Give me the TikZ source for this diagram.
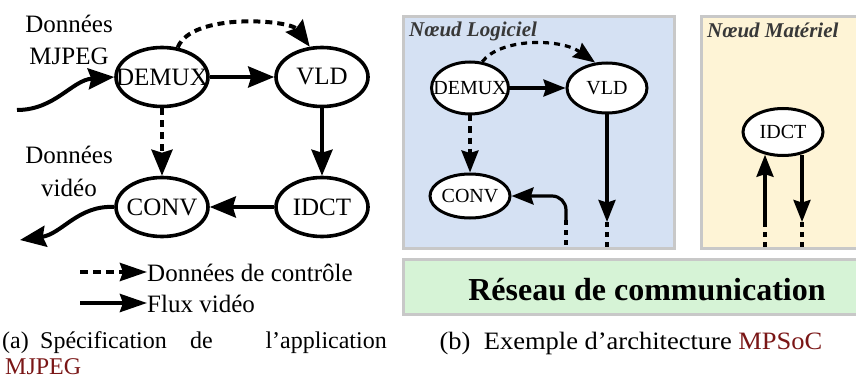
\documentclass[tikz,border=0pt]{standalone}
\usepackage{fontspec}
\setmainfont{Liberation Serif}
\newfontfamily\capfont[FakeStretch=1.06]{Liberation Serif}
\usetikzlibrary{arrows.meta,shapes.geometric}
\definecolor{boxgray}{HTML}{C8C8C8}
\definecolor{lblue}{HTML}{D5E1F3}
\definecolor{lyellow}{HTML}{FEF4D6}
\definecolor{lgreen}{HTML}{D6F3D6}
\definecolor{capred}{HTML}{7A1616}
\definecolor{titlegray}{HTML}{383838}
\begin{document}
\begin{tikzpicture}[x=1pt,y=-1pt,
  bigtip/.tip={Stealth[length=26pt,width=21pt,inset=3pt]},
  legtip/.tip={Stealth[length=27pt,width=18pt,inset=3pt]},
  smalltip/.tip={Stealth[length=22pt,width=17pt,inset=2.5pt]},
  procA/.style={ellipse,draw,line width=3.6pt,fill=white,minimum width=92pt,minimum height=59pt,inner sep=0pt,font=\fontsize{25}{30}\selectfont},
  procB/.style={ellipse,draw,line width=3pt,fill=white,inner sep=0pt,font=\fontsize{20}{24}\selectfont},
  flowA/.style={line width=4pt,-bigtip},
  ctrlA/.style={flowA,dash pattern=on 7pt off 5pt},
  flowB/.style={line width=3.2pt,-smalltip},
  ctrlB/.style={flowB,dash pattern=on 6pt off 5pt},
  linkB/.style={line width=3.2pt,dash pattern=on 5pt off 5pt},
  lbl/.style={font=\fontsize{25}{30}\selectfont,anchor=base,inner sep=0pt},
  caplbl/.style={font=\fontsize{24}{28}\selectfont,anchor=base west,inner sep=0pt},
  boxframe/.style={draw=boxgray,line width=3pt},
  ttl/.style={font=\fontsize{21}{25}\selectfont\bfseries\itshape,text=titlegray,anchor=base west,inner sep=0pt}
]
\useasboundingbox (0,0) rectangle (856,385);

% ---------- (a) application ----------
\node[procA] (demuxA) at (162,77) {\makebox[0pt]{DEMUX}};
\node[procA] (vldA) at (322,77) {\makebox[0pt]{VLD}};
\node[procA] (convA) at (162,207) {\makebox[0pt]{CONV}};
\node[procA] (idctA) at (322,207) {\makebox[0pt]{IDCT}};

\draw[flowA] (demuxA) -- (vldA);
\draw[flowA] (vldA) -- (idctA);
\draw[flowA] (idctA) -- (convA);
\draw[ctrlA] (demuxA) -- (convA);
\draw[ctrlA] (demuxA.62) .. controls (192,12) and (290,20) .. (vldA.112);

\coordinate (inA) at (17,110);
\coordinate (outA) at (20,240);
\draw[flowA] (inA) .. controls (55,110) and (72,80) .. (demuxA.west);
\draw[flowA] (convA.west) .. controls (78,205) and (62,234) .. (outA);

\node[lbl] (t1) at (69,33) {Données};
\node[lbl] (t2) at (69,65) {MJPEG};
\node[lbl] (t3) at (69,163) {Données};
\node[lbl] (t4) at (69,196) {vidéo};

\coordinate (lg1s) at (80,272);
\coordinate (lg1e) at (147,272);
\coordinate (lg2s) at (80,303);
\coordinate (lg2e) at (147,303);
\draw[line width=4pt,dash pattern=on 8pt off 5pt,-legtip] (lg1s) -- (lg1e);
\draw[line width=4pt,-legtip] (lg2s) -- (lg2e);
\node[lbl,anchor=base west] (lgt1) at (147,281) {Données de contrôle};
\node[lbl,anchor=base west] (lgt2) at (147,312) {Flux vidéo};

\node[caplbl] (ca1) at (2,348) {(a)};
\node[caplbl] (ca2) at (40,348) {Spécification};
\node[caplbl] (ca3) at (190,348) {de};
\node[caplbl,anchor=base east] (ca4) at (387,348) {l’application};
\node[caplbl,text=capred] (ca5) at (5,374) {MJPEG};

% ---------- (b) architecture ----------
\draw[boxframe,fill=lblue] (403.5,16.5) rectangle (674,248.5);
\draw[boxframe,fill=lyellow] (701,16.5) rectangle (870,248.5);
\draw[boxframe,fill=lgreen] (403.5,259.5) rectangle (870,314.5);

\node[ttl] (tl) at (409,37) {Nœud Logiciel};
\node[ttl] (tm) at (707,38) {Nœud Matériel};
\node[font=\fontsize{32}{36}\selectfont\bfseries,anchor=base,inner sep=0pt] (net) at (647,300) {Réseau de communication};

\node[procB,minimum width=77pt,minimum height=52pt] (demuxB) at (470,88) {\makebox[0pt]{DEMUX}};
\node[procB,minimum width=80pt,minimum height=50pt] (vldB) at (607,88) {\makebox[0pt]{VLD}};
\node[procB,minimum width=80pt,minimum height=44pt] (convB) at (470,196) {\makebox[0pt]{CONV}};
\node[procB,minimum width=80pt,minimum height=47pt] (idctB) at (783,132) {\makebox[0pt]{IDCT}};

\draw[flowB] (demuxB) -- (vldB);
\draw[ctrlB] (demuxB) -- (convB);
\draw[ctrlB] (demuxB.65) .. controls (500,38) and (560,38) .. (vldB.115);

\coordinate (vldmid) at (607,222);
\coordinate (vldbot) at (607,248);
\draw[flowB] (vldB) -- (vldmid);
\draw[linkB] (vldmid) -- (vldbot);

\coordinate (cvmid) at (566,220);
\coordinate (cvbot) at (566,248);
\draw[linkB] (cvmid) -- (cvbot);
\draw[flowB,rounded corners=14pt] (cvmid) |- (convB);

\coordinate (iumid) at (765,222);
\coordinate (iubot) at (765,248);
\draw[linkB] (iumid) -- (iubot);
\draw[flowB] (iumid) -- (iumid |- idctB.233);

\coordinate (idmid) at (802,222);
\coordinate (idbot) at (802,248);
\draw[flowB] (idmid |- idctB.305) -- (idmid);
\draw[linkB] (idmid) -- (idbot);

\node[font=\capfont\fontsize{25}{29}\selectfont,anchor=base,inner sep=0pt] (cb) at (631,349) {(b)\ \ Exemple d’architecture \textcolor{capred}{MPSoC}};
\end{tikzpicture}
\end{document}
